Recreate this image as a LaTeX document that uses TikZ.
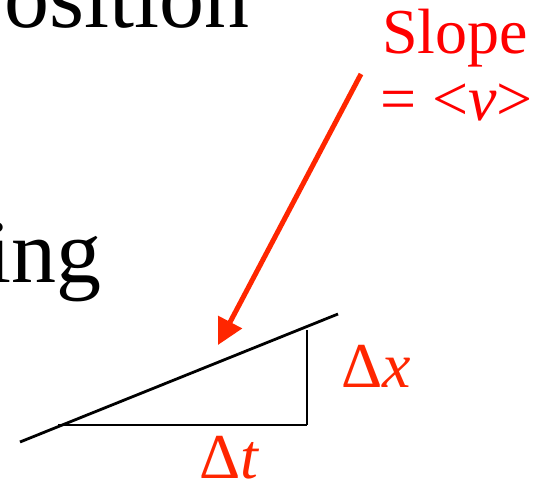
\documentclass[tikz,border=0pt]{standalone}
\usepackage{fontspec}
\setmainfont{Liberation Serif}
\usetikzlibrary{arrows.meta}
\definecolor{arrowred}{RGB}{255,38,0}
\definecolor{labelred}{RGB}{255,0,0}
\begin{document}
\begin{tikzpicture}[x=1pt,y=-1pt,
  bigtext/.style={inner sep=0pt,anchor=base west,font=\fontsize{90}{90}\selectfont},
  redtext/.style={inner sep=0pt,anchor=base west,text=labelred,font=\fontsize{64}{64}\selectfont},
  deltatext/.style={inner sep=0pt,anchor=base west,text=arrowred,font=\fontsize{64}{64}\selectfont},
  graphline/.style={line width=2.8pt,black},
  slopearrow/.style={line width=5pt,arrowred,-{Triangle[length=26pt,width=26pt]}}]
\useasboundingbox (0,0) rectangle (546,482);
\node[bigtext] (pos) at (4,27) {osition};
\node[bigtext] (ing) at (-14,282) {ing};
\node[redtext] (slope) at (382,53) {Slope};
\node[redtext] (eqv) at (380,120) {= \textless\textit{v}\textgreater};
\coordinate (lineA) at (20,442);
\coordinate (lineB) at (338,314);
\coordinate (triL) at (58,425);
\coordinate (triR) at (307,425);
\coordinate (triT) at (307,330);
\draw[graphline] (lineA) -- (lineB);
\draw[graphline] (triL) -- (triR);
\draw[graphline] (triR) -- (triT);
\node[deltatext] (dx) at (341,387) {Δ\textit{x}};
\node[deltatext] (dt) at (199,478) {Δ\textit{t}};
\coordinate (arrS) at (361,74);
\coordinate (arrT) at (218,345);
\draw[slopearrow] (arrS) -- (arrT);
\end{tikzpicture}
\end{document}
